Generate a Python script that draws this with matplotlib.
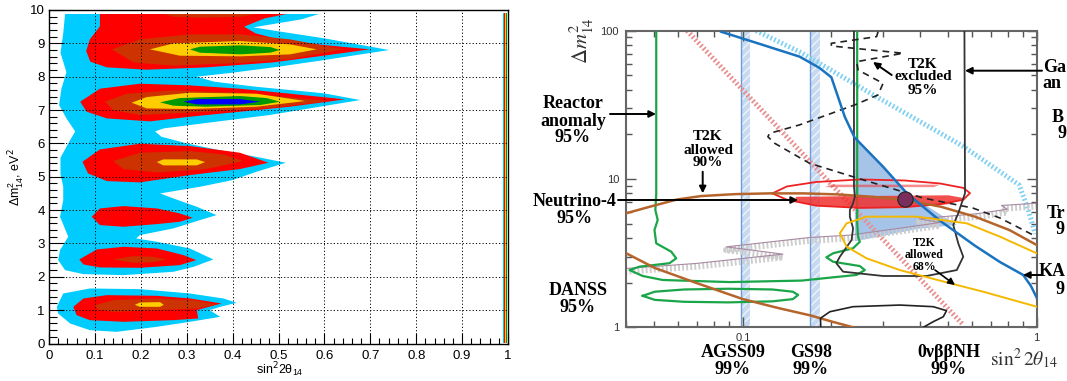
import numpy as np
import matplotlib
matplotlib.use("Agg")
import matplotlib.pyplot as plt
from matplotlib.ticker import FixedLocator, MultipleLocator, FuncFormatter, NullFormatter
from matplotlib.patches import FancyArrowPatch
from matplotlib.transforms import ScaledTranslation

plt.rcParams['font.family'] = ['Liberation Sans', 'DejaVu Sans']

W, H = 1067, 381

# ================= LEFT PANEL DATA (sin^2 2theta14, dm^2_14 [eV^2]) =================
cyan_upper = [(0.035,9.88),(0.588,9.88),(0.55,9.72),(0.445,9.48),(0.50,9.36),(0.60,9.15),(0.741,8.80),
              (0.60,8.50),(0.50,8.30),(0.40,8.12),(0.322,8.00),(0.36,7.85),(0.45,7.70),(0.60,7.50),
              (0.678,7.30),(0.59,7.10),(0.48,6.85),(0.335,6.60),(0.25,6.45),(0.231,6.36),(0.245,6.20),
              (0.30,6.00),(0.37,5.80),(0.45,5.60),(0.516,5.42),(0.452,5.15),(0.40,4.90),(0.329,4.70),
              (0.242,4.50),(0.271,4.35),(0.322,4.10),(0.365,3.85),(0.329,3.70),(0.271,3.45),(0.198,3.25),
              (0.19,3.15),(0.235,3.05),(0.307,2.85),(0.358,2.52),(0.315,2.30),(0.271,2.15),(0.162,2.05),
              (0.075,2.08),(0.035,2.20),(0.020,2.50),(0.024,2.80),(0.042,3.20),(0.024,3.80),(0.031,4.30),
              (0.031,4.70),(0.025,5.08),(0.025,5.57),(0.042,6.00),(0.057,6.36),(0.038,6.75),(0.022,7.15),
              (0.027,7.64),(0.038,8.13),(0.025,8.72),(0.031,9.30)]
cyan_lower = [(0.017,1.10),(0.031,1.50),(0.089,1.65),(0.198,1.63),(0.307,1.50),(0.38,1.35),(0.409,1.22),
              (0.373,1.10),(0.35,1.00),(0.373,0.80),(0.307,0.65),(0.235,0.50),(0.147,0.35),(0.089,0.40),
              (0.046,0.60),(0.020,0.90)]

red_top = [(0.111,9.88),(0.518,9.88),(0.47,9.75),(0.425,9.50),(0.45,9.30),(0.50,9.12),(0.598,8.95),
           (0.699,8.82),(0.598,8.63),(0.489,8.43),(0.343,8.28),(0.213,8.21),(0.126,8.28),(0.09,8.45),
           (0.081,8.77),(0.089,9.12),(0.111,9.51)]
red_72 = [(0.068,7.25),(0.111,7.64),(0.198,7.79),(0.307,7.74),(0.416,7.64),(0.525,7.49),(0.645,7.32),
          (0.525,7.10),(0.416,6.95),(0.307,6.80),(0.22,6.66),(0.126,6.75),(0.082,6.95)]
red_54 = [(0.073,5.45),(0.111,5.82),(0.198,5.99),(0.307,5.92),(0.416,5.72),(0.478,5.42),(0.416,5.23),
          (0.307,5.05),(0.198,4.83),(0.126,4.87),(0.085,5.10)]
red_38 = [(0.093,3.80),(0.111,4.05),(0.162,4.12),(0.235,4.05),(0.285,3.90),(0.313,3.77),(0.285,3.65),
          (0.235,3.58),(0.162,3.50),(0.111,3.55)]
red_25 = [(0.066,2.52),(0.104,2.82),(0.162,2.90),(0.235,2.85),(0.293,2.65),(0.321,2.50),(0.285,2.35),
          (0.198,2.27),(0.111,2.28),(0.075,2.37)]
red_11 = [(0.053,1.10),(0.075,1.35),(0.126,1.45),(0.235,1.43),(0.307,1.35),(0.376,1.20),(0.322,1.00),
          (0.325,0.75),(0.271,0.70),(0.162,0.65),(0.089,0.70),(0.060,0.85)]

orange_strip = [(0.25,9.88),(0.45,9.88),(0.42,9.80),(0.33,9.77),(0.27,9.80)]
orange_88 = [(0.137,8.82),(0.198,9.12),(0.307,9.27),(0.416,9.27),(0.525,9.12),(0.641,8.82),(0.525,8.53),
             (0.416,8.41),(0.271,8.33),(0.184,8.43)]
orange_72 = [(0.122,7.25),(0.169,7.49),(0.271,7.59),(0.416,7.52),(0.608,7.27),(0.489,7.07),(0.343,6.95),
             (0.198,6.85),(0.14,7.00)]
orange_54 = [(0.14,5.47),(0.198,5.72),(0.307,5.77),(0.38,5.67),(0.423,5.47),(0.343,5.23),(0.235,5.13),
             (0.162,5.23)]
orange_25 = [(0.14,2.52),(0.184,2.62),(0.228,2.60),(0.256,2.52),(0.228,2.44),(0.184,2.42)]
orange_11 = [(0.10,1.15),(0.14,1.30),(0.235,1.35),(0.314,1.30),(0.365,1.17),(0.322,1.05),(0.235,1.00),
             (0.14,0.95),(0.107,1.02)]

yellow_88 = [(0.22,8.82),(0.271,9.00),(0.416,9.07),(0.525,8.97),(0.583,8.82),(0.525,8.67),(0.416,8.61),(0.285,8.63)]
yellow_72 = [(0.18,7.22),(0.213,7.39),(0.307,7.52),(0.452,7.49),(0.558,7.27),(0.452,7.10),(0.307,7.03),(0.213,7.05)]
yellow_54 = [(0.235,5.44),(0.249,5.52),(0.322,5.52),(0.34,5.44),(0.322,5.34),(0.249,5.34)]
yellow_11 = [(0.187,1.16),(0.198,1.23),(0.242,1.24),(0.25,1.16),(0.242,1.10),(0.198,1.10)]

green_88 = [(0.307,8.82),(0.329,8.90),(0.416,8.94),(0.482,8.89),(0.503,8.80),(0.482,8.72),(0.416,8.67),(0.329,8.72)]
green_72 = [(0.242,7.23),(0.285,7.36),(0.416,7.42),(0.474,7.36),(0.503,7.25),(0.46,7.15),(0.343,7.10),(0.271,7.13)]
blue_72 = [(0.293,7.25),(0.322,7.33),(0.416,7.33),(0.46,7.25),(0.416,7.17),(0.322,7.17)]

edge_stripe_x = [0.9885, 0.9903, 0.9925, 0.9943, 0.9962, 0.998]
edge_stripe_top = 9.92

level_colors = {'cyan': '#00ccff', 'red': '#ff0000', 'orange': '#cc3300',
                'yellow': '#ffcc00', 'green': '#009900', 'blue': '#0000ff'}
layers = [('cyan', [cyan_upper, cyan_lower]),
          ('red', [red_top, red_72, red_54, red_38, red_25, red_11]),
          ('orange', [orange_strip, orange_88, orange_72, orange_54, orange_25, orange_11]),
          ('yellow', [yellow_88, yellow_72, yellow_54, yellow_11]),
          ('green', [green_88, green_72]),
          ('blue', [blue_72])]
stripe_colors = ['#00ccff', '#ff0000', '#cc3300', '#ffcc00', '#009900']

# ================= RIGHT PANEL DATA (log10 sin^2 2theta, log10 dm^2) =================
agss09_band = (-1.005, -0.975)
gs98_band = (-0.770, -0.738)

red_hatch_lx = [-1.19, -0.25]
red_hatch_ly = [2.0, 0.016]
cyan_hatch_lx = [-0.955, -0.80, -0.55, -0.25, -0.06, -0.03, -0.005]
cyan_hatch_ly = [2.0, 1.85, 1.56, 1.22, 0.96, 0.80, 0.63]

t2k68_fill_lx = [-0.619, -0.523, -0.432, -0.272, -0.40, -0.619]
t2k68_fill_ly = [1.28, 1.083, 0.892, 0.690, 0.665, 0.58]

gray_band_lx = [-1.40, -1.159, -0.864, -1.057, -0.773, -0.636, -0.432, -0.33, -0.40, -0.20, -0.10, -0.12, 0.0]
gray_band_ly = [0.375, 0.409, 0.472, 0.521, 0.584, 0.600, 0.656, 0.685, 0.71, 0.745, 0.775, 0.80, 0.815]

danss_lx = [-1.295, -1.295, -1.298, -1.290, -1.301, -1.295, -1.244, -1.227, -1.250, -1.352, -1.386, -1.341,
            -1.273, -1.045, -0.80, -0.693, -0.613, -0.585, -0.602, -0.693, -0.716, -0.693, -0.625, -0.602,
            -0.608, -0.611, -0.611]
danss_ly = [2.0, 0.90, 0.79, 0.724, 0.656, 0.566, 0.510, 0.465, 0.432, 0.409, 0.386, 0.346,
            0.319, 0.305, 0.315, 0.337, 0.353, 0.386, 0.413, 0.442, 0.472, 0.499, 0.533, 0.577,
            0.611, 0.70, 2.0]
danss_loop_lx = [-1.341, -1.30, -1.2, -1.05, -0.9, -0.83, -0.812, -0.83, -0.9, -1.05, -1.2, -1.30, -1.341]
danss_loop_ly = [0.212, 0.24, 0.255, 0.26, 0.255, 0.24, 0.218, 0.19, 0.175, 0.168, 0.172, 0.185, 0.212]

n4_outline_lx = [-0.900, -0.85, -0.75, -0.60, -0.45, -0.33, -0.25, -0.227, -0.25, -0.33, -0.45, -0.60, -0.75, -0.85, -0.900]
n4_outline_ly = [0.903, 0.95, 0.98, 0.997, 0.99, 0.97, 0.94, 0.905, 0.86, 0.83, 0.81, 0.805, 0.82, 0.86, 0.903]
n4_fill_lx = [-0.82, -0.60, -0.30, -0.245, -0.30, -0.45, -0.60, -0.75, -0.82]
n4_fill_ly = [0.88, 0.885, 0.89, 0.87, 0.83, 0.81, 0.805, 0.82, 0.85]
n4_strip_lx = [-0.72, -0.35, -0.33, -0.70]
n4_strip_ly = [0.945, 0.945, 0.962, 0.962]

brown_up_lx = [-1.399, -1.317, -1.224, -1.142, -1.026, -0.909, -0.793, -0.676, -0.559, -0.443, -0.326, -0.210, -0.093, 0.0]
brown_up_ly = [0.768, 0.813, 0.862, 0.885, 0.898, 0.903, 0.903, 0.896, 0.880, 0.858, 0.813, 0.746, 0.656, 0.555]
brown_lo_lx = [-1.398, -1.30, -1.16, -1.0, -0.88, -0.77, -0.70, -0.625]
brown_lo_ly = [0.50, 0.40, 0.30, 0.19, 0.13, 0.08, 0.04, 0.0]

gallium_lx = [-0.622, -0.622, -0.619, -0.625, -0.636, -0.636, -0.625, -0.630, -0.670, -0.682, -0.659,
              -0.523, -0.375, -0.272, -0.250, -0.267, -0.284, -0.267, -0.244, -0.246]
gallium_ly = [2.0, 0.95, 0.881, 0.836, 0.791, 0.746, 0.668, 0.589, 0.476, 0.432, 0.375,
              0.346, 0.346, 0.386, 0.476, 0.566, 0.690, 0.769, 0.904, 2.0]
black_low_lx = [-0.735, -0.736, -0.704, -0.625, -0.466, -0.352, -0.307, -0.318, -0.352, -0.386]
black_low_ly = [0.0, 0.061, 0.105, 0.139, 0.150, 0.139, 0.112, 0.071, 0.038, 0.0]

t2k_dash_lx = [-0.540, -0.545, -0.699, -0.699, -0.455, -0.613, -0.608, -0.523, -0.540, -0.619, -0.807,
               -0.909, -0.915, -0.892, -0.773, -0.612, -0.476, -0.387, -0.217, -0.125, -0.012]
t2k_dash_ly = [1.993, 1.960, 1.915, 1.897, 1.848, 1.791, 1.735, 1.645, 1.567, 1.500, 1.365,
               1.308, 1.285, 1.241, 1.106, 1.007, 0.926, 0.872, 0.804, 0.737, 0.622]

katrin_lx = [-1.074, -0.932, -0.807, -0.74, -0.699, -0.676, -0.653, -0.62, -0.523, -0.44, -0.33, -0.21,
             -0.125, -0.046, -0.02, 0.0]
katrin_ly = [1.993, 1.904, 1.825, 1.75, 1.686, 1.552, 1.418, 1.28, 1.083, 0.90, 0.72, 0.55,
             0.44, 0.353, 0.28, 0.20]

troitsk_lx = [0.0, -0.125, -0.238, -0.409, -0.579, -0.647, -0.670, -0.647, -0.579, -0.466, -0.295, -0.182, 0.0]
troitsk_ly = [0.499, 0.611, 0.701, 0.746, 0.746, 0.701, 0.634, 0.544, 0.465, 0.386, 0.297, 0.240, 0.139]

best_fit = (-0.449, 0.868)

P = lambda v: np.power(10.0, np.asarray(v, dtype=float))

# ================= FIGURE =================
fig = plt.figure(figsize=(W / 100, H / 100), dpi=100)

def fp(x, y):
    return (x / W, 1 - y / H)

# ---------- left ----------
L0, L1, T0, B0 = 49, 508, 10, 343.5
ax1 = fig.add_axes([L0 / W, 1 - B0 / H, (L1 - L0) / W, (B0 - T0) / H])
for cname, polys in layers:
    for poly in polys:
        xs, ys = zip(*poly)
        ax1.fill(xs, ys, color=level_colors[cname], lw=0, zorder=1)
for i, c in enumerate(stripe_colors):
    ax1.fill_between([edge_stripe_x[i], edge_stripe_x[i + 1]], 0, edge_stripe_top, color=c, lw=0, zorder=1)

ax1.set_xlim(0, 1)
ax1.set_ylim(0, 10)
ax1.xaxis.set_major_locator(MultipleLocator(0.1))
ax1.xaxis.set_minor_locator(MultipleLocator(0.02))
ax1.yaxis.set_major_locator(MultipleLocator(1))
ax1.yaxis.set_minor_locator(MultipleLocator(0.2))
ax1.xaxis.set_major_formatter(FuncFormatter(lambda v, p: '%g' % round(v, 1)))
ax1.yaxis.set_major_formatter(FuncFormatter(lambda v, p: '%d' % round(v)))
ax1.grid(True, which='major', color='k', ls=(0, (1.2, 2.2)), lw=0.7)
ax1.tick_params(axis='x', which='major', direction='in', length=8, width=0.8, labelsize=9.5, pad=5,
                top=False, colors='k')
ax1.tick_params(axis='x', which='minor', direction='in', length=4.5, width=0.8, top=False)
ax1.tick_params(axis='y', which='major', direction='in', length=11, width=0.8, labelsize=9.5, pad=3,
                right=False)
ax1.tick_params(axis='y', which='minor', direction='in', length=6, width=0.8, right=False)
for s in ax1.spines.values():
    s.set_linewidth(1.0)
fig.text(*fp(280, 370), r'sin$^{2}$2$\mathregular{\theta_{14}}$', fontsize=9, ha='center', va='center')
fig.text(*fp(17, 177), r'$\mathregular{\Delta m^{2}_{14}}$, eV$^{2}$', fontsize=9, ha='center', va='center',
         rotation=90)

# ---------- right ----------
RL, RR, RT, RB = 626, 1036.7, 30.7, 327.3
ax2 = fig.add_axes([RL / W, 1 - RB / H, (RR - RL) / W, (RB - RT) / H])
ax2.set_xscale('log')
ax2.set_yscale('log')

for lo, hi in (agss09_band, gs98_band):
    ax2.axvspan(P(lo), P(hi), facecolor='#c6d9f0', edgecolor='#eef3fa', hatch='////', lw=0, zorder=1)
    ax2.axvline(P(lo), color='#6d9cd6', lw=1.0, zorder=1.1)

ax2.fill(P(t2k68_fill_lx), P(t2k68_fill_ly), color='#a6c3e8', lw=0, zorder=1.5)
ax2.plot(P(red_hatch_lx), P(red_hatch_ly), color='#e88c8c', lw=3.6, ls=(0, (0.35, 0.45)),
         dash_capstyle='butt', zorder=2)
ax2.plot(P(cyan_hatch_lx), P(cyan_hatch_ly), color='#7fd0f2', lw=3.6, ls=(0, (0.35, 0.45)),
         dash_capstyle='butt', zorder=2)
ax2.plot(P(gray_band_lx), P(gray_band_ly), color='#cdcdcd', lw=4.5, ls=(0, (0.3, 0.35)),
         dash_capstyle='butt', zorder=2.2)
off = ScaledTranslation(0, 2.3 / 72, fig.dpi_scale_trans)
ax2.plot(P(gray_band_lx), P(gray_band_ly), color='#a98aa3', lw=0.8, zorder=2.3,
         transform=ax2.transData + off)

ax2.plot(P(danss_lx), P(danss_ly), color='#1aa548', lw=1.6, zorder=3)
ax2.plot(P(danss_loop_lx), P(danss_loop_ly), color='#1aa548', lw=1.6, zorder=3)

ax2.fill(P(n4_fill_lx), P(n4_fill_ly), color='#f03030', alpha=0.85, lw=0, zorder=3)
ax2.fill(P(n4_strip_lx), P(n4_strip_ly), color='#f04040', alpha=0.6, lw=0, zorder=3)
ax2.plot(P(n4_outline_lx), P(n4_outline_ly), color='#ee2222', lw=1.3, zorder=3.1)

ax2.plot(P(brown_up_lx), P(brown_up_ly), color='#b5652b', lw=1.8, zorder=3.2)
ax2.plot(P(brown_lo_lx), P(brown_lo_ly), color='#b5652b', lw=1.8, zorder=3.2)

ax2.plot(P(gallium_lx), P(gallium_ly), color='#333333', lw=1.3, zorder=3.3)
ax2.plot(P(black_low_lx), P(black_low_ly), color='#222222', lw=1.2, zorder=3.3)
ax2.plot(P(t2k_dash_lx), P(t2k_dash_ly), color='#222222', lw=1.2, ls=(0, (4, 3)), zorder=3.4)

ax2.plot(P(katrin_lx), P(katrin_ly), color='#1a73c0', lw=1.8, zorder=3.5)
ax2.plot(P(troitsk_lx), P(troitsk_ly), color='#f5b800', lw=1.4, zorder=3.5)

ax2.plot(P(best_fit[0]), P(best_fit[1]), 'o', ms=11, mfc='#7b2d5c', mec='#222222', mew=0.8, zorder=4)

ax2.set_xlim(0.04, 1)
ax2.set_ylim(1, 100)
ax2.xaxis.set_major_locator(FixedLocator([0.1, 1]))
ax2.xaxis.set_minor_locator(FixedLocator([0.04, 0.05, 0.06, 0.07, 0.08, 0.09, 0.2, 0.3, 0.4, 0.5, 0.6, 0.7, 0.8, 0.9]))
ax2.yaxis.set_major_locator(FixedLocator([1, 10, 100]))
ax2.yaxis.set_minor_locator(FixedLocator([2, 3, 4, 5, 6, 7, 8, 9, 20, 30, 40, 50, 60, 70, 80, 90]))
ax2.xaxis.set_major_formatter(FuncFormatter(lambda v, p: '%g' % v))
ax2.yaxis.set_major_formatter(FuncFormatter(lambda v, p: '%g' % v))
ax2.xaxis.set_minor_formatter(NullFormatter())
ax2.yaxis.set_minor_formatter(NullFormatter())
ax2.tick_params(which='both', direction='in', top=True, right=True, color='#555555', width=1.0)
ax2.tick_params(which='major', length=7, labelsize=8, labelcolor='#333333')
ax2.tick_params(which='minor', length=4)
ax2.tick_params(axis='x', pad=4)
ax2.tick_params(axis='y', pad=5)
for s in ax2.spines.values():
    s.set_color('#666666')
    s.set_linewidth(1.5)

# ---------- annotations ----------
bold = dict(family=['Liberation Serif', 'DejaVu Serif'], weight='bold', ha='center', va='center',
            linespacing=1.0)
bold_left = dict(bold, ha='left')

def arrow(p0, p1, lw=1.4):
    fig.add_artist(FancyArrowPatch(fp(*p0), fp(*p1), transform=fig.transFigure, arrowstyle='-|>',
                                   mutation_scale=10, color='k', lw=lw, shrinkA=0, shrinkB=0, zorder=6))

fig.text(*fp(573, 121), 'Reactor\nanomaly\n95%', fontsize=13, **bold)
arrow((610, 114), (656, 114))
fig.text(*fp(708, 150), 'T2K\nallowed\n90%', fontsize=11, **bold)
arrow((702.7, 171.7), (702.7, 193.3))
fig.text(*fp(575, 210), 'Neutrino-4\n95%', fontsize=13, **bold)
arrow((618, 200), (798, 200))
fig.text(*fp(578, 299), 'DANSS\n95%', fontsize=13, **bold)
fig.text(*fp(923, 77), 'T2K\nexcluded\n95%', fontsize=11, **bold)
arrow((891.7, 75), (873, 62))

# labels cut by the right edge of the original figure: only their visible parts are shown
fig.text(*fp(1043, 67), 'Ga', fontsize=13, **bold_left)
fig.text(*fp(1042, 83), 'an', fontsize=13, **bold_left)
arrow((1042, 70.7), (965, 70.7))
fig.text(*fp(1052, 118), 'B', fontsize=13, **bold_left)
fig.text(*fp(1057, 134), '9', fontsize=13, **bold_left)
fig.text(*fp(1047, 213), 'Tr', fontsize=13, **bold_left)
fig.text(*fp(1056, 229), '9', fontsize=13, **bold_left)
fig.text(*fp(1039, 272), 'KA', fontsize=13, **bold_left)
fig.text(*fp(1056, 290), '9', fontsize=13, **bold_left)
arrow((1042, 275), (1023, 275))

fig.text(*fp(924, 255), 'T2K\nallowed\n68%', fontsize=8.5, **bold)
arrow((935, 270), (955, 285), lw=1.2)
fig.text(*fp(733, 361), 'AGSS09\n99%', fontsize=13, **bold)
fig.text(*fp(811, 361), 'GS98\n99%', fontsize=13, **bold)
fig.text(*fp(949, 361), '0νββNH\n99%', fontsize=13, **bold)
fig.text(*fp(990, 359), r'$\sin^2 2\theta_{14}$', fontsize=14, ha='left', va='center',
         math_fontfamily='stix', color='#333333')
fig.text(*fp(582, 41), r'$\Delta m^2_{14}$', fontsize=15, ha='center', va='center', rotation=90,
         math_fontfamily='stix', color='#333333')

fig.savefig('out.png', dpi=100)
